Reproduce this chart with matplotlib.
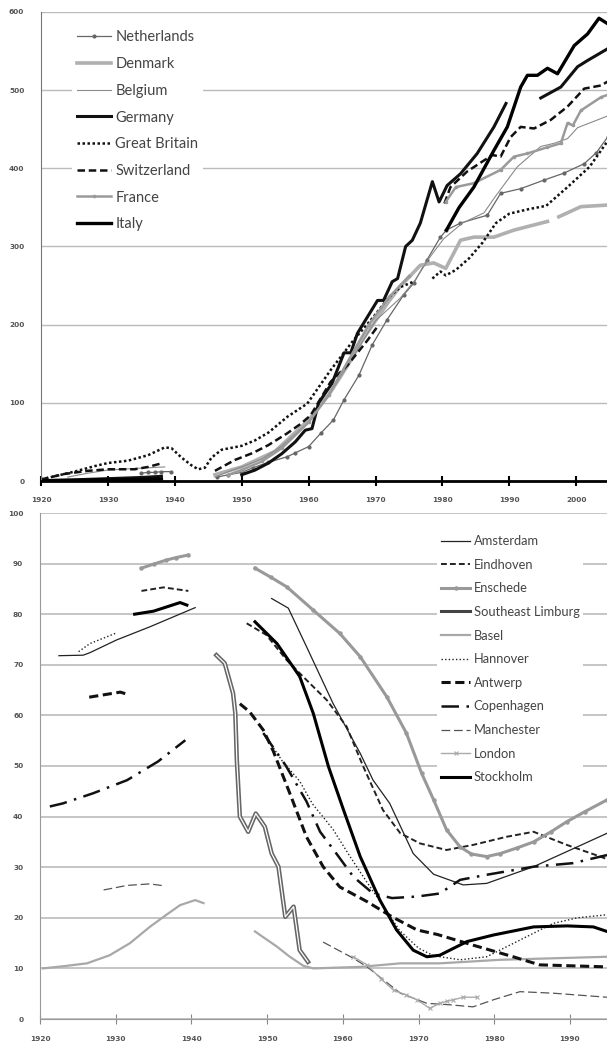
import numpy as np
import matplotlib.pyplot as plt
import matplotlib.patheffects as pe
from matplotlib.lines import Line2D

nan = np.nan

# ---- top panel: cars per 1000 inhabitants by country ----
nl_years = [1935, 1936, 1937, 1938, 1939.5, nan, 1946.3, 1948, 1950, 1951.7, 1954, 1956.8, 1958, 1960,
            1961.8, 1963.7, 1965.3, 1967.5, 1969.5, 1971.7, 1974.2, 1975.7, 1977.7, 1979.7, 1980.6,
            1982.7, 1986.7, 1988.7, 1991.7, 1995.2, 1998.2, 2001.2, 2003, 2004.7]
nl_vals = [10, 11, 11, 12, 12, nan, 5, 8, 11, 17, 24, 31, 36, 44, 61, 78, 104, 135, 174, 206, 238, 253,
           283, 312, 321, 330, 340, 368, 374, 385, 394, 406, 420, 440]

dk_years = [1946, 1950, 1955, 1960, 1963, 1966, 1968, 1970, 1972, 1973.7, 1976.7, 1978.7, 1980.5,
            1982.7, 1984.7, 1987.7, 1990.7, 1995.7, nan, 1997.4, 2000.7, 2004.7]
dk_vals = [8, 18, 38, 78, 110, 150, 180, 205, 230, 249, 276, 279, 272, 308, 312, 312, 321, 332, nan,
           338, 351, 353]

be_years = [1924, 1927, 1930, 1934, 1938.5, nan, 1946, 1948, 1950, 1953, 1956, 1960, 1963, 1966, 1970,
            1973.7, 1976, 1978, 1980.2, 1983, 1986.2, 1988, 1991.2, 1994.7, 1996.7, 1998.7, 2000.2, 2004.7]
be_vals = [5, 10, 14, 16, 18, nan, 5, 12, 18, 28, 45, 75, 110, 150, 205, 234, 258, 285, 310, 330, 343,
           365, 402, 428, 432, 438, 452, 467]

de_years = [1920, 1925, 1930, 1935, 1938, nan, 1950, 1952, 1954, 1956, 1958, 1959.5, 1960.5, 1961.5,
            1963.5, 1965.3, 1966.3, 1967.3, 1970.3, 1971.2, 1972.5, 1973.3, 1974.5, 1975.5, 1976.7,
            1978.5, 1979.5, 1980.7, 1982.7, 1985.2, 1987.7, 1989.5, nan, 1994.7, 1997.7, 2000.2,
            2001.7, 2004.7]
de_vals = [0.5, 1.5, 3, 4.5, 6, nan, 8, 14, 23, 35, 50, 65, 67, 100, 125, 164, 164, 189, 231, 231, 255,
           259, 300, 308, 330, 383, 357, 378, 393, 419, 453, 483, nan, 490, 504, 530, 538, 553]

gb_years = [1920, 1922, 1925, 1928, 1930, 1933, 1936, 1938.5, 1939.5, 1941, 1942.5, 1943.5, 1944.5,
            1945.5, 1947, 1950, 1952, 1954, 1956.8, 1959.8, 1963.3, 1966.7, 1969.7, 1972, 1973.7,
            1975.7, nan, 1978.5, 1979.7, 1980.5, 1982, 1984, 1986, 1988, 1990, 1993, 1995.5, 1998.7,
            2002, 2004.7]
gb_vals = [2, 6, 12, 19, 23, 26, 33, 43, 42, 30, 20, 15, 17, 30, 40, 45, 52, 62, 82, 99, 142, 180, 210,
           235, 248, 255, nan, 259, 268, 263, 270, 285, 305, 330, 342, 348, 352, 376, 402, 435]

ch_years = [1920, 1923.5, 1927, 1930, 1934, 1936, 1938.2, nan, 1946, 1949, 1951.7, 1954, 1956.8, 1958.8,
            1960.3, 1963.3, 1965.8, 1968.8, 1970.5, nan, 1980.3, 1981.2, 1983.7, 1986.2, 1987.5,
            1988.7, 1990.2, 1991.7, 1993.7, 1996.2, 1998.7, 2001.2, 2003.7, 2004.7]
ch_vals = [2, 9, 13, 15, 15, 18, 23, nan, 13, 27, 36, 46, 61, 73, 84, 127, 148, 180, 200, nan, 355,
           376, 396, 410, 417, 415, 440, 453, 451, 462, 479, 502, 506, 511]

fr_years = [1948, 1950, 1953, 1956, 1960, 1963, 1966, 1969, 1972, 1975, nan, 1980.5, 1982, 1984.7,
            1988.7, 1990.7, 1992.7, 1995.7, 1997.7, 1998.7, 1999.5, 2000.7, 2003.7, 2004.7]
fr_vals = [8, 14, 25, 42, 75, 110, 155, 200, 235, 262, nan, 357, 376, 381, 398, 415, 419, 427, 432,
           458, 455, 474, 491, 494]

it_years = [1920, 1925, 1930, 1935, 1938, nan, 1980.6, 1982.5, 1984.7, 1987.7, 1989.7, 1991.7, 1992.7,
            1994.2, 1995.7, 1997.2, 1999.7, 2001.7, 2003.4, 2004.7]
it_vals = [0.3, 0.8, 1.5, 2, 2.5, nan, 321, 350, 376, 423, 453, 504, 519, 519, 528, 521, 557, 572,
           592, 585]

top_ticks_x = [1920, 1930, 1940, 1950, 1960, 1970, 1980, 1990, 2000]
top_ticks_y = [0, 100, 200, 300, 400, 500, 600]

# ---- bottom panel: share by city ----
ams_years = [1922.5, 1925.7, 1926.6, 1930.1, 1934.5, 1940.5, nan, 1950.6, 1952.8, 1955.2, 1958.7,
             1962.3, 1964, 1966.2, 1969.3, 1972, 1975.9, 1979, 1985.2, 1990.5, 1994.9]
ams_vals = [71.8, 71.9, 72.4, 74.9, 77.5, 81.3, nan, 83.1, 81.2, 73.6, 62.4, 52.5, 47.2, 42.6, 32.7,
            28.6, 26.5, 26.8, 30.1, 33.7, 36.7]

ein_years = [1933.4, 1936.3, 1939.6, nan, 1947.3, 1949.9, 1952.6, 1955.2, 1957.9, 1960.5, 1962.7,
             1965.3, 1967.6, 1970.2, 1973.7, 1977.2, 1981.6, 1985.2, 1989.6, 1994, 1994.9]
ein_vals = [84.6, 85.3, 84.6, nan, 78.2, 75.9, 70.9, 67, 63, 57.8, 49.9, 41.3, 36.7, 34.7, 33.4, 34.4,
            36, 37, 34.4, 32.1, 31.6]

ens_years = [1933.4, 1935, 1936.7, 1938, 1939.6, nan, 1948.4, 1950.5, 1952.6, 1956.1, 1959.6, 1962.3,
             1965.8, 1968.4, 1970.4, 1972, 1973.7, 1975.5, 1977, 1979, 1980.8, 1983, 1985.2, 1987.5,
             1989.6, 1992, 1994.9]
ens_vals = [89.1, 89.9, 90.7, 91.2, 91.7, nan, 89.1, 87.3, 85.4, 80.8, 76.2, 71.6, 63.7, 56.5, 48.6,
            43.3, 37.4, 34, 32.6, 32.1, 32.7, 33.8, 35, 37, 39, 41, 43.3]

sel_years = [1943.3, 1944.4, 1945.5, 1945.8, 1946.0, 1946.4, 1947.5, 1948.5, 1949.7, 1950.6, 1951.5,
             1952.4, 1953.5, 1954.3, 1955.4]
sel_vals = [71.9, 70.3, 64.4, 60.4, 51.2, 40, 37, 40.6, 38, 32.7, 30.1, 20.2, 22.2, 13.6, 11.3]

bas_years = [1920.4, 1923.5, 1926.2, 1929.2, 1931.9, 1934.5, 1936.7, 1938.5, 1940.5, 1941.6, nan,
             1948.4, 1951.3, 1953, 1954.8, 1956.1, 1962.3, 1967.6, 1972.8, 1980.8, 1994.9]
bas_vals = [10, 10.5, 11, 12.6, 15, 18.2, 20.6, 22.5, 23.5, 22.9, nan, 17.3, 14.3, 12.3, 10.5, 10,
            10.3, 11, 11, 11.7, 12.3]

han_years = [1925.1, 1926.6, 1930.1, nan, 1949.5, 1952, 1954.3, 1956, 1958.7, 1961, 1963.2, 1965.5,
             1967.5, 1970, 1972, 1975.5, 1979, 1983.4, 1987.8, 1991, 1994.9]
han_vals = [72.6, 74.2, 76.3, nan, 56.5, 51, 47, 42.5, 37.5, 32, 27, 22, 17.5, 14, 12.5, 11.7, 12.3,
            15.6, 18.9, 20, 20.6]

ant_years = [1926.5, 1930.6, 1931.5, nan, 1946.4, 1947.7, 1949.5, 1950.8, 1953, 1955.2, 1957.4,
             1959.6, 1963.2, 1966.5, 1969.8, 1972.5, 1977.2, 1982.5, 1986, 1994.9]
ant_vals = [63.6, 64.6, 64.2, nan, 62.3, 60.7, 57.1, 53, 44.6, 36, 30.1, 26.1, 23.2, 20.2, 17.6, 16.7,
            14.6, 12.3, 10.7, 10.3]

cop_years = [1921.3, 1923, 1927, 1931.5, 1935.6, 1939.2, nan, 1949.5, 1952.5, 1955.2, 1957, 1959,
             1961.4, 1964, 1966.5, 1969.8, 1972.8, 1975.5, 1979, 1985.2, 1990.4, 1994.9]
cop_vals = [42, 42.6, 44.6, 47.2, 50.9, 55.1, nan, 56.5, 50, 43, 37, 33, 28.1, 24.8, 23.9, 24.2, 24.8,
            27.5, 28.5, 30.1, 30.8, 32.4]

man_years = [1928.4, 1931.5, 1934.5, 1936.5, nan, 1957.4, 1961.4, 1963.2, 1967.6, 1971.1, 1974.2,
             1977.2, 1979.9, 1983.4, 1987.8, 1994.9]
man_vals = [25.5, 26.4, 26.7, 26.3, nan, 15.2, 12, 10.3, 5.1, 3.1, 2.8, 2.4, 3.8, 5.4, 5.1, 4.3]

lon_years = [1961.4, 1963.2, 1965, 1966.7, 1968.3, 1969.8, 1971.5, 1972.8, 1973.7, 1974.6, 1975.9, 1977.7]
lon_vals = [12.3, 10.7, 8, 5.7, 4.8, 3.8, 2.1, 3.1, 3.5, 3.8, 4.3, 4.3]

sto_years = [1932.5, 1935, 1938.5, 1939.4, nan, 1948.4, 1951.3, 1954.3, 1956.1, 1958.1, 1960.1,
             1962.3, 1964.9, 1967.1, 1969.3, 1971.1, 1972.8, 1976.4, 1979.9, 1985.2, 1989.6, 1993.1, 1994.9]
sto_vals = [80, 80.6, 82.3, 81.8, nan, 78.5, 74.2, 67.7, 60.4, 49.9, 41.3, 32.1, 23.5, 17.6, 13.6, 12.3,
            12.6, 15.3, 16.6, 18.2, 18.4, 18.2, 17.3]

bot_ticks_x = [1920, 1930, 1940, 1950, 1960, 1970, 1980, 1990]
bot_ticks_y = [0, 10, 20, 30, 40, 50, 60, 70, 80, 90, 100]

W, H = 607, 1041
fig = plt.figure(figsize=(W / 100, H / 100), dpi=100)
ax1 = fig.add_axes([41 / W, (H - 481) / H, 566 / W, 469 / H])
ax2 = fig.add_axes([40 / W, (H - 1019) / H, 567 / W, 506 / H])

tick_font = dict(fontsize=5.3, color='#555555', fontweight='bold')

# ---------- top ----------
ax1.plot(nl_years, nl_vals, color='#666666', lw=0.9, marker='o', ms=2, label='Netherlands')
ax1.plot(dk_years, dk_vals, color='#b0b0b0', lw=2.6, label='Denmark')
ax1.plot(be_years, be_vals, color='#8a8a8a', lw=0.8, label='Belgium')
ax1.plot(de_years, de_vals, color='#111111', lw=2.2, label='Germany')
ax1.plot(gb_years, gb_vals, color='#111111', lw=1.8, dashes=(1, 1), label='Great Britain')
ax1.plot(ch_years, ch_vals, color='#111111', lw=1.8, dashes=(3, 1.5), label='Switzerland')
ax1.plot(fr_years, fr_vals, color='#9a9a9a', lw=1.8, marker='o', ms=1.6, label='France')
ax1.plot(it_years, it_vals, color='#000000', lw=2.4, label='Italy')

ax1.set_xlim(1920, 2004.6)
ax1.set_ylim(0, 600)
ax1.set_xticks(top_ticks_x)
ax1.set_yticks(top_ticks_y)
ax1.grid(axis='y', color='#bbbbbb', lw=1)
ax1.set_axisbelow(True)
for s in ['top', 'right']:
    ax1.spines[s].set_visible(False)
ax1.spines['left'].set_color('#777777')
ax1.spines['bottom'].set_color('#000000')
ax1.spines['bottom'].set_linewidth(2)
ax1.tick_params(axis='x', direction='inout', length=7, width=1.5, color='#000000', pad=8)
ax1.tick_params(axis='y', length=0, pad=12)
for lab in ax1.get_xticklabels() + ax1.get_yticklabels():
    lab.set(**tick_font)

leg1 = ax1.legend(loc='upper left', bbox_to_anchor=(0.055, 0.970), borderaxespad=0,
                  frameon=True, fancybox=False, edgecolor='none', facecolor='white', framealpha=1,
                  handlelength=2.35, handletextpad=0.3, labelspacing=0.87, borderpad=0.3,
                  prop={'family': 'Lato', 'size': 10.5})
for t in leg1.get_texts():
    t.set_color('#444444')

# ---------- bottom ----------
ax2.plot(ams_years, ams_vals, color='#222222', lw=0.9, label='Amsterdam')
ax2.plot(ein_years, ein_vals, color='#222222', lw=1.4, dashes=(3, 1.6), label='Eindhoven')
ax2.plot(ens_years, ens_vals, color='#999999', lw=2.2, marker='o', ms=2.2, label='Enschede')
ax2.plot(sel_years, sel_vals, color='white', lw=0.9,
         path_effects=[pe.Stroke(linewidth=3.2, foreground='#666666'), pe.Normal()])
ax2.plot(bas_years, bas_vals, color='#a8a8a8', lw=1.6, label='Basel')
ax2.plot(han_years, han_vals, color='#222222', lw=1.0, dashes=(1, 1.6), label='Hannover')
ax2.plot(ant_years, ant_vals, color='#111111', lw=2.2, dashes=(3, 1.5), label='Antwerp')
ax2.plot(cop_years, cop_vals, color='#111111', lw=1.8, dashes=(7, 3, 1, 3), label='Copenhagen')
ax2.plot(man_years, man_vals, color='#555555', lw=0.9, dashes=(7, 3), label='Manchester')
ax2.plot(lon_years, lon_vals, color='#aaaaaa', lw=1.0, marker='x', ms=3, mew=0.8, label='London')
ax2.plot(sto_years, sto_vals, color='#000000', lw=2.2, label='Stockholm')

ax2.set_xlim(1920, 1994.9)
ax2.set_ylim(0, 100)
ax2.set_xticks(bot_ticks_x)
ax2.set_yticks(bot_ticks_y)
ax2.grid(axis='y', color='#bbbbbb', lw=1.2)
ax2.set_axisbelow(True)
for s in ['top', 'right']:
    ax2.spines[s].set_visible(False)
ax2.spines['left'].set_color('#999999')
ax2.spines['bottom'].set_color('#999999')
ax2.tick_params(axis='x', direction='inout', length=7, width=0.8, color='#888888', pad=9)
ax2.tick_params(axis='y', length=0, pad=12)
for lab in ax2.get_xticklabels() + ax2.get_yticklabels():
    lab.set(**tick_font)

handles, labels = ax2.get_legend_handles_labels()
sel_proxy = Line2D([], [], color='#444444', lw=2.2)
handles.insert(3, sel_proxy)
labels.insert(3, 'Southeast Limburg')
leg2 = ax2.legend(handles, labels, loc='upper left', bbox_to_anchor=(0.70, 0.964), borderaxespad=0,
                  frameon=True, fancybox=False, edgecolor='none', facecolor='white', framealpha=1,
                  handlelength=2.3, handletextpad=0.25, labelspacing=0.9, borderpad=0.3,
                  prop={'family': 'Lato', 'size': 9.3})
for t in leg2.get_texts():
    t.set_color('#444444')

fig.savefig('out.png', dpi=100)
